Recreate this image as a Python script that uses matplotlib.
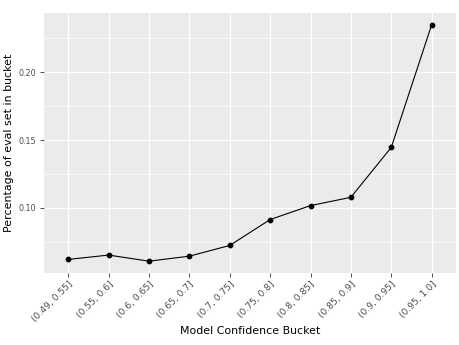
import numpy as np
import matplotlib
matplotlib.use("Agg")
import matplotlib.pyplot as plt
from matplotlib.ticker import MultipleLocator

# Data ----------------------------------------------------------------
buckets = ["(0.49, 0.55]", "(0.55, 0.6]", "(0.6, 0.65]", "(0.65, 0.7]",
           "(0.7, 0.75]", "(0.75, 0.8]", "(0.8, 0.85]", "(0.85, 0.9]",
           "(0.9, 0.95]", "(0.95, 1.0]"]
pct_in_bucket = [0.0620, 0.0652, 0.0607, 0.0644, 0.0723,
                 0.0914, 0.1017, 0.1078, 0.1446, 0.2350]

# Plot ----------------------------------------------------------------
fig = plt.figure(figsize=(4.6, 3.45), dpi=100)
ax = fig.add_axes([0.0957, 0.2087, 0.8953, 0.7536])

x = np.arange(len(buckets))
ax.plot(x, pct_in_bucket, color="black", lw=0.8, zorder=3)
ax.scatter(x, pct_in_bucket, color="black", s=10, zorder=4)

ax.set_facecolor("#EBEBEB")
for s in ax.spines.values():
    s.set_visible(False)

ax.set_xlim(-0.6, len(buckets) - 0.4)
span = max(pct_in_bucket) - min(pct_in_bucket)
ax.set_ylim(min(pct_in_bucket) - 0.05 * span, max(pct_in_bucket) + 0.05 * span)

ax.set_xticks(x)
ax.set_xticklabels(buckets, rotation=45, ha="right", rotation_mode="anchor")
ax.yaxis.set_minor_locator(MultipleLocator(0.025))
ax.set_yticks([0.10, 0.15, 0.20])
ax.set_yticklabels(["0.10", "0.15", "0.20"])

ax.grid(which="major", color="white", lw=0.9)
ax.grid(which="minor", axis="y", color="white", lw=0.45)
ax.set_axisbelow(True)

ax.tick_params(which="major", length=3, width=0.6, color="#333333",
               labelcolor="#4D4D4D", pad=2)
ax.tick_params(axis="x", labelsize=6.6)
ax.tick_params(axis="y", labelsize=5.8, pad=3)
ax.tick_params(which="minor", length=0)

ax.set_xlabel("Model Confidence Bucket", fontsize=7.9, labelpad=1)
ax.set_ylabel("Percentage of eval set in bucket", fontsize=7.9, labelpad=3)

fig.savefig("out.png", dpi=100)
